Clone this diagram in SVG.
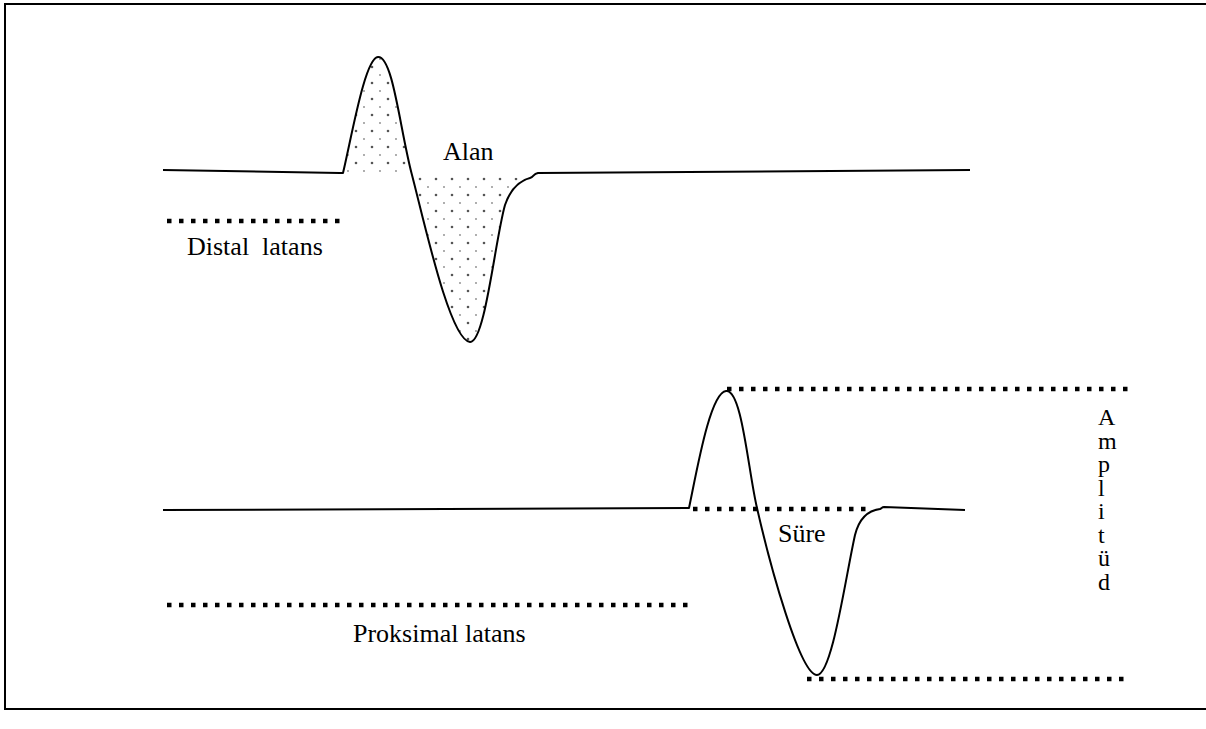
<svg xmlns="http://www.w3.org/2000/svg" width="1206" height="729" viewBox="0 0 1206 729">
<defs>
<style>
.trace{fill:none;stroke:#000;stroke-width:2;stroke-linejoin:round}
.dots{fill:none;stroke:#000;stroke-width:4.5;stroke-dasharray:4.5 7.5}
.lbl{font-family:"Liberation Serif","Times New Roman",serif;font-size:26px;fill:#000}
.amp{font-family:"Liberation Serif","Times New Roman",serif;font-size:24px;fill:#000}
</style>
<pattern id="stip" patternUnits="userSpaceOnUse" width="16" height="16" x="2" y="1">
<circle cx="2" cy="2" r="1.3" fill="#555"/>
<circle cx="10" cy="10" r="0.9" fill="#888"/>
</pattern>
</defs>
<rect x="0" y="0" width="1206" height="729" fill="#fff"/>
<rect id="frame" x="5" y="4" width="1230" height="705" fill="none" stroke="#000" stroke-width="2"/>
<g id="area-fill">
<path d="M343,173 C352,135 365,58 378,57 C393,56 400,130 412,175 Z" fill="url(#stip)"/>
<path d="M412,175 C425,225 450,340 470,342 C485,343 495,240 505,205 C512,185 522,180 530,178 Z" fill="url(#stip)"/>
</g>
<g id="distal-trace">
<path class="trace" d="M163,170 L340,173 L343,173 C352,135 365,58 378,57 C393,56 400,130 412,175 C425,225 450,340 470,342 C485,343 495,240 505,205 C512,185 522,180 530,178 C534,177 533,174 538,173 L970,170"/>
</g>
<g id="proximal-trace">
<path class="trace" d="M163,510 L688,508 L689,508 C697,470 710,393 726,391 C742,389 748,470 757,508 C770,565 800,675 817,675 C832,675 845,580 855,535 C860,515 872,510 880,509 C882,508 882,507 884,507 L965,510"/>
</g>
<g id="connectors">
<line class="dots" x1="167" y1="221" x2="340" y2="221"/>
<line class="dots" x1="167" y1="605" x2="690" y2="605"/>
<line class="dots" x1="693" y1="509" x2="872" y2="509"/>
<line class="dots" x1="727" y1="389" x2="1130" y2="389"/>
<line class="dots" x1="807" y1="679" x2="1128" y2="679"/>
</g>
<g id="labels">
<text class="lbl" x="443" y="160">Alan</text>
<text class="lbl" x="187" y="255" xml:space="preserve">Distal  latans</text>
<text class="lbl" x="778" y="542">Süre</text>
<text class="lbl" x="353" y="642">Proksimal latans</text>
<g id="amplitud">
<text class="amp" x="1098" y="425">A</text>
<text class="amp" x="1098" y="448.5">m</text>
<text class="amp" x="1098" y="472">p</text>
<text class="amp" x="1098" y="495.5">l</text>
<text class="amp" x="1098" y="519">i</text>
<text class="amp" x="1098" y="542.5">t</text>
<text class="amp" x="1098" y="566">ü</text>
<text class="amp" x="1098" y="589.5">d</text>
</g>
</g>
</svg>
